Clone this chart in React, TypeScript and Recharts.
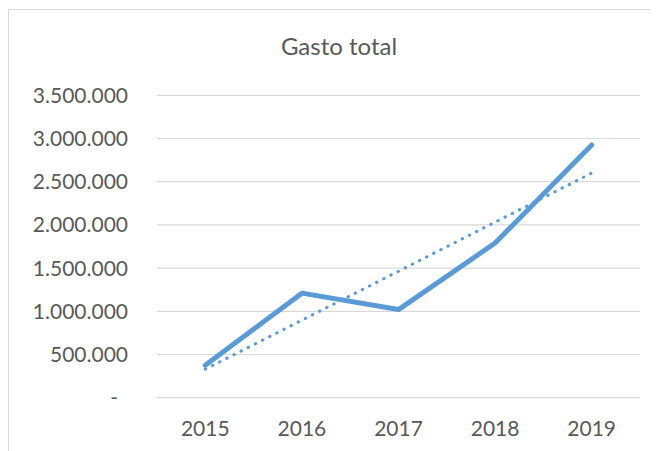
import React from "react";
import { LineChart, Line, XAxis, YAxis, CartesianGrid } from "recharts";

const years = ["2015", "2016", "2017", "2018", "2019"];
const gasto = [375000, 1210000, 1020000, 1790000, 2925000];
const tendencia = [330000, 897000, 1464000, 2032000, 2600000];
const yTicks = [0, 500000, 1000000, 1500000, 2000000, 2500000, 3000000, 3500000];

const data = years.map((y, i) => ({ year: y, gasto: gasto[i], trend: tendencia[i] }));

const FONT = "Lato, 'Open Sans', sans-serif";
const TEXT = "#595959";

const fmt = (v: number) =>
  v === 0 ? "-" : String(Math.round(v)).replace(/\B(?=(\d{3})+(?!\d))/g, ".");

const YTick = (props: any) => {
  const { x, y, payload } = props;
  const v = payload.value;
  return (
    <text
      x={x}
      y={y}
      dx={v === 0 ? -10 : 0}
      dy="0.36em"
      textAnchor="end"
      fill={TEXT}
      fontSize={21}
      fontFamily={FONT}
    >
      {fmt(v)}
    </text>
  );
};

export default function App() {
  return (
    <div
      style={{
        position: "relative",
        marginTop: 1,
        width: 662,
        height: 460,
        border: "1px solid #d9d9d9",
        boxSizing: "border-box",
        background: "#fff",
      }}
    >
      <div
        style={{
          position: "absolute",
          left: 0,
          width: 660,
          top: 21,
          textAlign: "center",
          fontFamily: FONT,
          fontSize: 24,
          color: TEXT,
          lineHeight: "30px",
        }}
      >
        Gasto total
      </div>
      <div style={{ position: "absolute", left: 0, top: 0 }}>
        <LineChart
          width={649}
          height={440}
          data={data}
          margin={{ top: 85.3, right: 18, bottom: 22.3, left: 0 }}
        >
          <CartesianGrid vertical={false} stroke="#d9d9d9" strokeWidth={1.2} />
          <XAxis
            dataKey="year"
            axisLine={false}
            tickLine={false}
            tickSize={0}
            tickMargin={23}
            height={30}
            padding={{ left: 48.3, right: 48.3 }}
            tick={{ fill: TEXT, fontSize: 21, fontFamily: FONT }}
            interval={0}
          />
          <YAxis
            domain={[0, 3500000]}
            ticks={yTicks}
            width={148}
            axisLine={false}
            tickLine={false}
            tickSize={0}
            tickMargin={29}
            tick={<YTick />}
            interval={0}
          />
          <Line
            type="linear"
            dataKey="trend"
            stroke="#5B9BD5"
            strokeWidth={3}
            strokeDasharray="0.5 7.5"
            strokeLinecap="round"
            dot={false}
            activeDot={false}
            isAnimationActive={false}
          />
          <Line
            type="linear"
            dataKey="gasto"
            stroke="#5B9BD5"
            strokeWidth={5}
            strokeLinecap="round"
            strokeLinejoin="round"
            dot={false}
            activeDot={false}
            isAnimationActive={false}
          />
        </LineChart>
      </div>
    </div>
  );
}
